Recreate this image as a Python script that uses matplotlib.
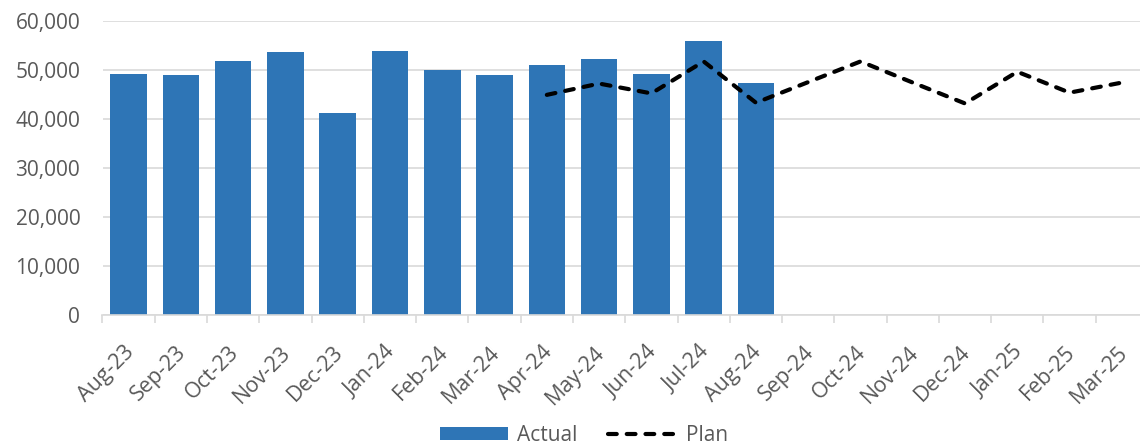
import matplotlib
matplotlib.use("Agg")
import matplotlib.pyplot as plt
from matplotlib.ticker import FuncFormatter, FixedLocator
from matplotlib.transforms import ScaledTranslation
import numpy as np

months = ["Aug-23", "Sep-23", "Oct-23", "Nov-23", "Dec-23", "Jan-24", "Feb-24",
          "Mar-24", "Apr-24", "May-24", "Jun-24", "Jul-24", "Aug-24", "Sep-24",
          "Oct-24", "Nov-24", "Dec-24", "Jan-25", "Feb-25", "Mar-25"]
actual = [49100, 48850, 51700, 53550, 41150, 53900, 49900, 48850, 50950,
          52300, 49100, 55900, 47300]
plan_months = ["Apr-24", "May-24", "Jun-24", "Jul-24", "Aug-24", "Sep-24",
               "Oct-24", "Nov-24", "Dec-24", "Jan-25", "Feb-25", "Mar-25"]
plan = [44900, 47200, 45200, 51700, 43300, 47500, 51700, 47400, 43150,
        49600, 45350, 47400]

plt.rcParams['font.family'] = ['Open Sans', 'DejaVu Sans']

fig = plt.figure(figsize=(11.4, 4.44), dpi=100)
ax = fig.add_axes([102.5 / 1140, 1 - 315.4 / 444, (1148 - 102.5) / 1140, (315.4 - 20.7) / 444])

x = np.arange(len(months))
idx = {m: i for i, m in enumerate(months)}
bars = ax.bar(x[:len(actual)], actual, width=0.7, color="#2E75B6", zorder=2, label="Actual")
px = [idx[m] for m in plan_months]
line, = ax.plot(px, plan, color="black", lw=3.0, linestyle=(0, (2.1, 2.4)),
                dash_capstyle="round", solid_capstyle="round", zorder=3, label="Plan")

ax.set_xlim(-0.5, len(months) - 0.5)
ax.set_ylim(0, 60000)
ax.set_yticks(np.arange(0, 60001, 10000))
ax.yaxis.set_major_formatter(FuncFormatter(lambda v, p: f"{int(v):,}"))
ax.grid(axis="y", color="#d9d9d9", lw=1.2, zorder=0)
ax.set_axisbelow(True)

for s in ["top", "right", "left"]:
    ax.spines[s].set_visible(False)
ax.spines["bottom"].set_color("#d9d9d9")
ax.spines["bottom"].set_linewidth(1.2)

ax.set_xticks(x)
ax.set_xticklabels(months, rotation=45, ha="right", va="top", rotation_mode="anchor")
ax.xaxis.set_minor_locator(FixedLocator(np.arange(-0.5, len(months), 1)))
ax.tick_params(axis="x", which="major", length=0, pad=19, labelsize=15.5, colors="#595959")
ax.tick_params(axis="x", which="minor", length=6, width=1.2, color="#d9d9d9")
ax.tick_params(axis="y", length=0, pad=16, labelsize=15, colors="#595959")
shift = ScaledTranslation(-5 / 100, 0, fig.dpi_scale_trans)
for lab in ax.get_xticklabels():
    lab.set_transform(lab.get_transform() + shift)

leg = fig.legend(handles=[bars, line], labels=["Actual", "Plan"], loc="center",
                 bbox_to_anchor=(0.512, 1 - 435 / 444), ncol=2, frameon=False,
                 fontsize=15, handlelength=3.3, handleheight=0.6, columnspacing=1.5,
                 handletextpad=0.4, labelcolor="#595959")

fig.savefig("out.png", dpi=100)
